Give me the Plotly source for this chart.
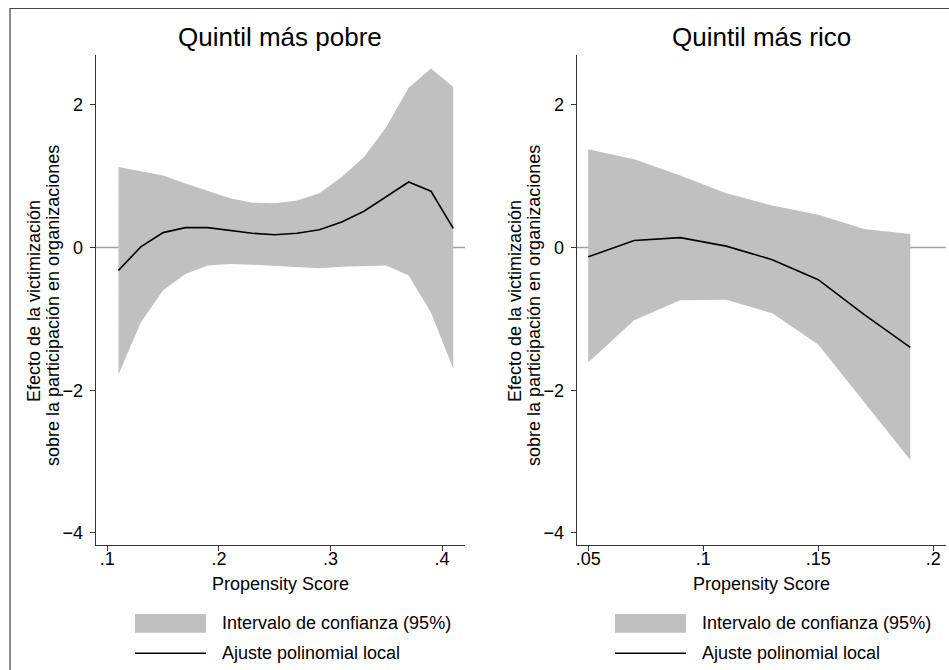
import plotly.graph_objects as go

W, H = 949, 670

# Left panel: Quintil más pobre
x_poor = [0.11, 0.13, 0.15, 0.17, 0.19, 0.21, 0.23, 0.25, 0.27, 0.29, 0.31, 0.33, 0.35, 0.37, 0.39, 0.41]
fit_poor = [-0.32, 0.01, 0.21, 0.28, 0.28, 0.24, 0.20, 0.18, 0.20, 0.25, 0.36, 0.51, 0.72, 0.92, 0.79, 0.27]
upper_poor = [1.13, 1.07, 1.01, 0.90, 0.80, 0.69, 0.63, 0.62, 0.66, 0.76, 0.99, 1.27, 1.69, 2.24, 2.51, 2.25]
lower_poor = [-1.78, -1.05, -0.60, -0.37, -0.25, -0.23, -0.24, -0.26, -0.28, -0.29, -0.27, -0.26, -0.25, -0.39, -0.91, -1.70]

# Right panel: Quintil más rico
x_rich = [0.05, 0.07, 0.09, 0.11, 0.13, 0.15, 0.17, 0.19]
fit_rich = [-0.13, 0.10, 0.14, 0.02, -0.17, -0.45, -0.94, -1.40]
upper_rich = [1.38, 1.24, 1.01, 0.76, 0.59, 0.46, 0.26, 0.19]
lower_rich = [-1.61, -1.02, -0.74, -0.73, -0.92, -1.36, -2.17, -2.98]

panel_titles = ["Quintil más pobre", "Quintil más rico"]
x_tickvals_poor = [0.1, 0.2, 0.3, 0.4]
x_ticktext_poor = [".1", ".2", ".3", ".4"]
x_tickvals_rich = [0.05, 0.1, 0.15, 0.2]
x_ticktext_rich = [".05", ".1", ".15", ".2"]
y_tickvals = [-4, -2, 0, 2]
x_title = "Propensity Score"
y_title_lines = ["Efecto de la victimización", "sobre la participación en organizaciones"]
legend_labels = ["Intervalo de confianza (95%)", "Ajuste polinomial local"]

FONT = "Liberation Sans, Arial, Helvetica, sans-serif"
BAND = "#c0c0c0"
AX = "#333333"

def px(v):
    return v / W

def py(v):
    return 1 - v / H

fig = go.Figure()

panels = [
    (x_poor, fit_poor, upper_poor, lower_poor, "x", "y"),
    (x_rich, fit_rich, upper_rich, lower_rich, "x2", "y2"),
]
for xs, fit, up, lo, xa, ya in panels:
    fig.add_trace(go.Scatter(x=xs, y=lo, mode="lines", line=dict(width=0, color=BAND),
                             xaxis=xa, yaxis=ya, showlegend=False, hoverinfo="skip"))
    fig.add_trace(go.Scatter(x=xs, y=up, mode="lines", line=dict(width=0, color=BAND),
                             fill="tonexty", fillcolor=BAND,
                             xaxis=xa, yaxis=ya, showlegend=False, name=legend_labels[0]))
    fig.add_trace(go.Scatter(x=xs, y=fit, mode="lines", line=dict(width=1.6, color="black"),
                             xaxis=xa, yaxis=ya, showlegend=False, name=legend_labels[1]))

plot_top, plot_bot = 55, 545
left_dom = [px(95.7), px(465)]
right_dom = [px(576.7), px(945.7)]
ydom = [py(plot_bot), py(plot_top)]

axis_common = dict(showline=True, linecolor=AX, linewidth=1, ticks="outside", ticklen=5,
                   tickcolor=AX, tickwidth=1, showgrid=False, zeroline=False,
                   tickfont=dict(family=FONT, size=18, color="black"))

fig.update_layout(
    width=W, height=H,
    margin=dict(l=0, r=0, t=0, b=0),
    paper_bgcolor="white", plot_bgcolor="white",
    font=dict(family=FONT, color="black"),
    showlegend=False,
    xaxis=dict(domain=left_dom, range=[0.0896, 0.4205], tickvals=x_tickvals_poor,
               ticktext=x_ticktext_poor, anchor="y", ticklabelstandoff=-8, **axis_common),
    yaxis=dict(domain=ydom, range=[-4.17, 2.70], tickvals=y_tickvals, anchor="x",
               ticklabelstandoff=3, **axis_common),
    xaxis2=dict(domain=right_dom, range=[0.045, 0.2054], tickvals=x_tickvals_rich,
                ticktext=x_ticktext_rich, anchor="y2", ticklabelstandoff=-8, **axis_common),
    yaxis2=dict(domain=ydom, range=[-4.17, 2.70], tickvals=y_tickvals, anchor="x2",
                ticklabelstandoff=3, **axis_common),
)

shapes = []
# zero reference lines (behind the band)
for xa, ya in [("x", "y"), ("x2", "y2")]:
    shapes.append(dict(type="line", xref=f"{xa} domain", yref=ya, x0=0, x1=1, y0=0, y1=0,
                       line=dict(color="#a0a0a0", width=1.5), layer="below"))
# outer frame
shapes.append(dict(type="rect", xref="paper", yref="paper", x0=px(10), x1=px(962), y0=py(683), y1=py(8.5),
                   line=dict(color="#444444", width=1.2), fillcolor="rgba(0,0,0,0)", layer="above"))

annotations = []
centers = [(95.7 + 465) / 2, (576.7 + 945.7) / 2]
axis_left = [95.7, 576.7]
legend_x0 = [135, 615]
for i in range(2):
    c = centers[i]
    annotations.append(dict(text=panel_titles[i], x=px(c), y=py(37), xref="paper", yref="paper",
                            showarrow=False, xanchor="center", yanchor="middle",
                            font=dict(family=FONT, size=26, color="black")))
    annotations.append(dict(text=x_title, x=px(c), y=py(584), xref="paper", yref="paper",
                            showarrow=False, xanchor="center", yanchor="middle",
                            font=dict(family=FONT, size=18, color="black")))
    for off, yc, line in [(61.7, 301, y_title_lines[0]), (42.7, 306, y_title_lines[1])]:
        annotations.append(dict(text=line, x=px(axis_left[i] - off), y=py(yc), xref="paper", yref="paper",
                                showarrow=False, xanchor="center", yanchor="middle", textangle=-90,
                                font=dict(family=FONT, size=18, color="black")))
    # legend keys
    lx = legend_x0[i]
    shapes.append(dict(type="rect", xref="paper", yref="paper", x0=px(lx), x1=px(lx + 71),
                       y0=py(632.7), y1=py(614), fillcolor=BAND, line=dict(width=0)))
    shapes.append(dict(type="line", xref="paper", yref="paper", x0=px(lx), x1=px(lx + 71),
                       y0=py(653.3), y1=py(653.3), line=dict(color="black", width=1.6)))
    annotations.append(dict(text=legend_labels[0], x=px(lx + 85), y=py(623), xref="paper", yref="paper",
                            showarrow=False, xanchor="left", yanchor="middle",
                            font=dict(family=FONT, size=18, color="black")))
    annotations.append(dict(text=legend_labels[1], x=px(lx + 85), y=py(653), xref="paper", yref="paper",
                            showarrow=False, xanchor="left", yanchor="middle",
                            font=dict(family=FONT, size=18, color="black")))

fig.update_layout(shapes=shapes, annotations=annotations)
fig.write_html("out.html", config={"displayModeBar": False},
               post_script="document.body.style.margin='0';document.body.style.overflow='hidden';")
